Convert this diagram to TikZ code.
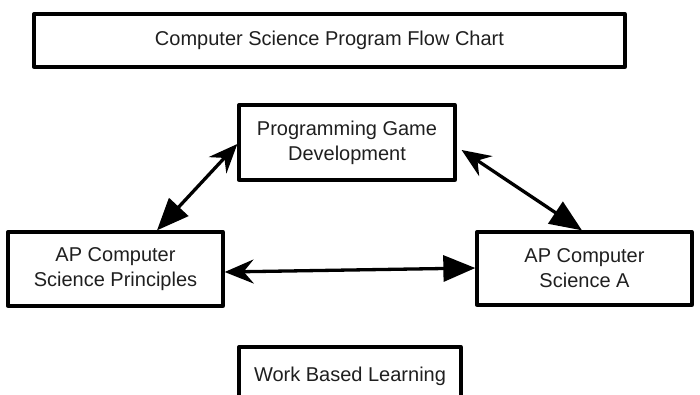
\documentclass[tikz,border=0pt]{standalone}
\usepackage{fontspec}
\setmainfont{Liberation Sans}
\usetikzlibrary{arrows.meta}
\begin{document}
\begin{tikzpicture}[x=1pt,y=-1pt,
  box/.style={draw=black,line width=3.3pt,line join=round,inner sep=0pt,
    align=center,font=\fontsize{20pt}{25pt}\selectfont,text=black!88},
  biarrow/.style={line width=3.3pt,
    {Stealth[length=29pt,width=24pt,inset=10pt]}-{Triangle[length=32pt,width=26pt]}}]
\useasboundingbox (0,0) rectangle (700,394);
\node[box,minimum width=591pt,minimum height=53pt] (T) at (329.5,40.5) {Computer Science Program Flow Chart};
\node[box,minimum width=216pt,minimum height=75pt] (P) at (347,142.5) {Programming Game\\Development};
\node[box,minimum width=215pt,minimum height=74pt] (L) at (115.5,269) {AP Computer\\Science Principles};
\node[box,minimum width=215pt,minimum height=73pt] (R) at (584.5,268.5) {AP Computer\\Science A};
\node[box,minimum width=222pt,minimum height=59pt] (W) at (350,376.5) {Work Based Learning};
\draw[biarrow] ([yshift=-1.5pt]P.west) -- ([xshift=41.5pt]L.north);
\draw[biarrow] ([xshift=5pt,yshift=-7.5pt]P.east) -- ([xshift=-2.5pt]R.north);
\draw[biarrow] ([yshift=-3pt]L.east) -- ([yshift=0.5pt]R.west);
\end{tikzpicture}
\end{document}
